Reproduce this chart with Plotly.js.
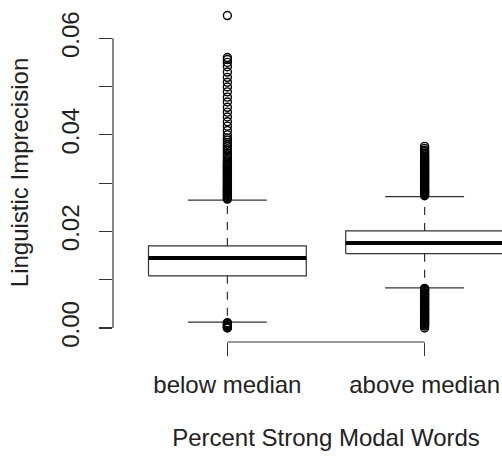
<!DOCTYPE html>
<html><head><meta charset="utf-8">
<script src="https://cdn.plot.ly/plotly-3.0.1.min.js"></script>
<style>html,body{margin:0;padding:0;overflow:hidden;background:#fff}</style>
</head><body><div id="chart" style="width:560px;height:460px"></div>
<script>
const categories = ['below median', 'above median'];
const q1 = [0.0108, 0.0154];
const medians = [0.0145, 0.0176];
const q3 = [0.0170, 0.0201];
const lowerWhiskers = [0.0012, 0.0083];
const upperWhiskers = [0.0265, 0.0272];
const outliersBelowMedian = [0.0647, 0.0560, 0.0556, 0.0550, 0.0541, 0.0530, 0.0519, 0.0509, 0.0499, 0.0489,
  0.0478, 0.0468, 0.0457, 0.0447, 0.0437, 0.0427, 0.0418, 0.0409, 0.0400, 0.0393, 0.0389, 0.0384, 0.0380,
  0.0376, 0.0371, 0.0367, 0.0362, 0.0358, 0.0354, 0.0349, 0.0345, 0.0342, 0.0340, 0.0337, 0.0335, 0.0332,
  0.0330, 0.0327, 0.0325, 0.0322, 0.0320, 0.0318, 0.0315, 0.0313, 0.0311, 0.0308, 0.0306, 0.0304, 0.0301,
  0.0299, 0.0297, 0.0295, 0.0292, 0.0290, 0.0288, 0.0286, 0.0284, 0.0282, 0.0280, 0.0278, 0.0276, 0.0274,
  0.0272, 0.0270, 0.0268, 0.0267, 0.0011, 0.0009, 0.0007, 0.0005, 0.0003, 0.0001, 0.0000];
const outliersAboveMedian = [0.0376, 0.0372, 0.0368, 0.0365, 0.0362, 0.0359, 0.0356, 0.0354, 0.0351, 0.0349,
  0.0347, 0.0344, 0.0342, 0.0340, 0.0337, 0.0335, 0.0333, 0.0330, 0.0328, 0.0326, 0.0323, 0.0321, 0.0319,
  0.0317, 0.0314, 0.0312, 0.0310, 0.0308, 0.0305, 0.0303, 0.0301, 0.0299, 0.0297, 0.0295, 0.0292, 0.0290,
  0.0288, 0.0286, 0.0284, 0.0282, 0.0280, 0.0278, 0.0276, 0.0274,
  0.0082, 0.0080, 0.0078, 0.0076, 0.0073, 0.0071, 0.0069, 0.0067, 0.0065, 0.0062, 0.0060, 0.0058, 0.0056,
  0.0053, 0.0051, 0.0049, 0.0047, 0.0045, 0.0042, 0.0040, 0.0038, 0.0036, 0.0033, 0.0031, 0.0029, 0.0027,
  0.0025, 0.0022, 0.0020, 0.0018, 0.0016, 0.0013, 0.0011, 0.0009, 0.0007, 0.0004, 0.0000];
const yTickValues = [0, 0.01, 0.02, 0.03, 0.04, 0.05, 0.06];
const yTickLabels = ['0.00', '', '0.02', '', '0.04', '', '0.06'];
const xTitle = 'Percent Strong Modal Words';
const yTitle = 'Linguistic Imprecision';

const outliers = [outliersBelowMedian, outliersAboveMedian];
const LINE = '#333';
const FONT = 'Liberation Sans, Arial, Helvetica, sans-serif';
const halfBox = 0.4, halfCap = 0.2;
const traces = [];
categories.forEach((c, i) => {
  const p = i + 1;
  traces.push({x: [p - halfBox, p + halfBox, p + halfBox, p - halfBox, p - halfBox],
    y: [q1[i], q1[i], q3[i], q3[i], q1[i]], mode: 'lines', line: {color: LINE, width: 1.2}, hoverinfo: 'skip'});
  traces.push({x: [p - halfBox, p + halfBox], y: [medians[i], medians[i]], mode: 'lines',
    line: {color: '#000', width: 4}, hoverinfo: 'skip'});
  traces.push({x: [p, p, null, p, p], y: [q3[i], upperWhiskers[i], null, q1[i], lowerWhiskers[i]],
    mode: 'lines', line: {color: LINE, width: 1.2, dash: '8px,8px'}, hoverinfo: 'skip'});
  traces.push({x: [p - halfCap, p + halfCap, null, p - halfCap, p + halfCap],
    y: [upperWhiskers[i], upperWhiskers[i], null, lowerWhiskers[i], lowerWhiskers[i]],
    mode: 'lines', line: {color: LINE, width: 1.2}, hoverinfo: 'skip'});
  traces.push({x: outliers[i].map(() => p), y: outliers[i], mode: 'markers',
    marker: {symbol: 'circle-open', size: 8, color: '#000', line: {width: 1.4, color: '#000'}}});
});

const layout = {
  width: 560, height: 460,
  margin: {l: 113, r: 21, t: 3, b: 118},
  showlegend: false,
  paper_bgcolor: '#fff', plot_bgcolor: '#fff',
  font: {family: FONT, size: 24, color: '#222'},
  xaxis: {range: [0.42, 2.58], tickvals: [1, 2], ticktext: categories, showgrid: false, zeroline: false,
    showline: false, ticks: 'outside', ticklen: 13, tickwidth: 1.2, tickcolor: LINE, ticklabelstandoff: 8,
    title: {text: xTitle, font: {size: 24}, standoff: 32}},
  yaxis: {range: [-0.0029, 0.0673], tickvals: yTickValues, ticktext: yTickLabels, tickangle: -90,
    showgrid: false, zeroline: false, showline: false, ticks: 'outside', ticklen: 13, tickwidth: 1.2,
    tickcolor: LINE, ticklabelstandoff: 10, title: {text: yTitle, font: {size: 24}, standoff: 22}},
  shapes: [
    {type: 'line', xref: 'paper', x0: 0, x1: 0, yref: 'y', y0: yTickValues[0], y1: yTickValues[yTickValues.length - 1],
      line: {color: LINE, width: 1.2}},
    {type: 'line', xref: 'x', x0: 1, x1: categories.length, yref: 'paper', y0: 0, y1: 0,
      line: {color: LINE, width: 1.2}}
  ]
};
Plotly.newPlot('chart', traces, layout, {displayModeBar: false, staticPlot: true});
</script></body></html>
